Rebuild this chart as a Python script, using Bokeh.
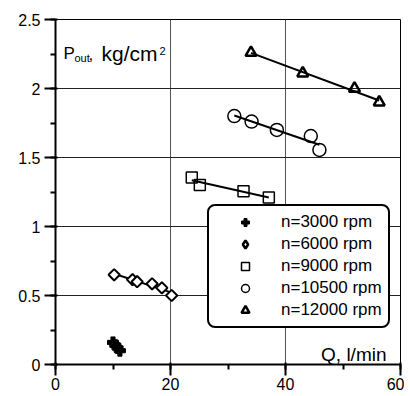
import numpy as np
from bokeh.plotting import figure
from bokeh.models import Range1d, Legend, LegendItem, Label, SingleIntervalTicker
from bokeh.embed import file_html
from bokeh.resources import INLINE

# ---- data ----
q3000 = [10.0, 10.4, 10.8, 11.2]
p3000 = [0.16, 0.14, 0.12, 0.10]
q6000 = [10.2, 13.4, 14.2, 16.8, 18.5, 20.2]
p6000 = [0.65, 0.615, 0.60, 0.585, 0.555, 0.50]
q9000 = [23.7, 25.1, 32.7, 37.1]
p9000 = [1.355, 1.30, 1.255, 1.21]
q10500 = [31.1, 34.1, 38.5, 44.4, 45.9]
p10500 = [1.80, 1.76, 1.70, 1.655, 1.555]
q12000 = [34.0, 43.0, 52.0, 56.3]
p12000 = [2.26, 2.11, 2.0, 1.9]
labels = ["n=3000 rpm", "n=6000 rpm", "n=9000 rpm", "n=10500 rpm", "n=12000 rpm"]

FONT = "Liberation Sans"

p = figure(width=404, height=392, output_backend="svg", toolbar_location=None,
           x_range=Range1d(0, 60), y_range=Range1d(0, 2.5),
           min_border_left=55, min_border_top=19, min_border_right=4, min_border_bottom=0)
p.background_fill_color = "white"
p.outline_line_color = "black"
p.outline_line_width = 1

p.xaxis.ticker = SingleIntervalTicker(interval=20, num_minor_ticks=2)
p.yaxis.ticker = SingleIntervalTicker(interval=0.5, num_minor_ticks=2)
for ax in (p.xaxis[0], p.yaxis[0]):
    ax.axis_line_width = 2
    ax.axis_line_color = "black"
    ax.major_tick_line_width = 2
    ax.minor_tick_line_width = 2
    ax.major_tick_out = 11
    ax.major_tick_in = 2
    ax.minor_tick_out = 5
    ax.minor_tick_in = 0
    ax.major_label_text_font = FONT
    ax.major_label_text_font_size = "16px"
    ax.major_label_text_color = "black"
p.yaxis.major_label_standoff = 4
p.xaxis.major_label_standoff = 2

p.xgrid.grid_line_color = "#555555"
p.ygrid.grid_line_color = "#222222"
p.xgrid.grid_line_width = 1
p.ygrid.grid_line_width = 1

# legend proxy for the diamond series (legend ignores marker angle); hidden under first diamond
leg_diamond = p.scatter(x=q6000[:1], y=p6000[:1], marker="diamond", size=8,
                        fill_color="white", line_color="black", line_width=2.5)

series = [
    (q3000, p3000, "plus", 11, 1, "black", 0.0),
    (q6000, p6000, "square", 8, 2, "white", np.pi / 4),
    (q9000, p9000, "square", 11, 1.5, None, 0.0),
    (q10500, p10500, "circle", 13, 1.5, None, 0.0),
    (q12000, p12000, "triangle", 11, 2.5, None, 0.0),
]

renderers = []
for i, (xs, ys, mk, sz, lw, fill, ang) in enumerate(series):
    xs = np.array(xs); ys = np.array(ys)
    if i > 0:
        k, b = np.polyfit(xs, ys, 1)
        lx = np.array([xs.min(), xs.max()])
        p.line(lx, k * lx + b, line_color="black", line_width=2)
    r = p.scatter(xs, ys, marker=mk, size=sz, angle=ang,
                  fill_color=fill if fill else "white",
                  fill_alpha=1.0 if fill else 0.0,
                  line_color="black", line_width=lw)
    renderers.append(r)

leg_renderers = [renderers[0], leg_diamond] + renderers[2:]

legend = Legend(items=[LegendItem(label=l, renderers=[r]) for l, r in zip(labels, leg_renderers)],
                location=(152, 36))
legend.label_text_font = FONT
legend.label_text_font_size = "17px"
legend.label_text_color = "black"
legend.label_height = 20
legend.glyph_height = 20
legend.glyph_width = 60
legend.label_standoff = 6
legend.spacing = 2
legend.padding = 6
legend.margin = 0
legend.border_line_color = "black"
legend.border_line_alpha = 1.0
legend.border_line_width = 2
legend.background_fill_color = "white"
legend.background_fill_alpha = 1.0
try:
    legend.border_radius = 8
except Exception:
    pass
p.add_layout(legend, "center")

# axis title pieces (screen units relative to frame)
def lab(x, y, t, size, align="left"):
    p.add_layout(Label(x=x, y=y, x_units="screen", y_units="screen", text=t,
                       text_font=FONT, text_font_size=size, text_baseline="alphabetic",
                       text_align=align, text_color="black"))

lab(8, 311, "P", "17px")
lab(19, 307, "out", "11px")
lab(33, 311, ",", "17px")
lab(46, 311, "kg/cm", "21px")
lab(104, 314, "2", "11px")
lab(331, 10, "Q, l/min", "19px", align="right")

open("out.html", "w").write(file_html(p, INLINE))
